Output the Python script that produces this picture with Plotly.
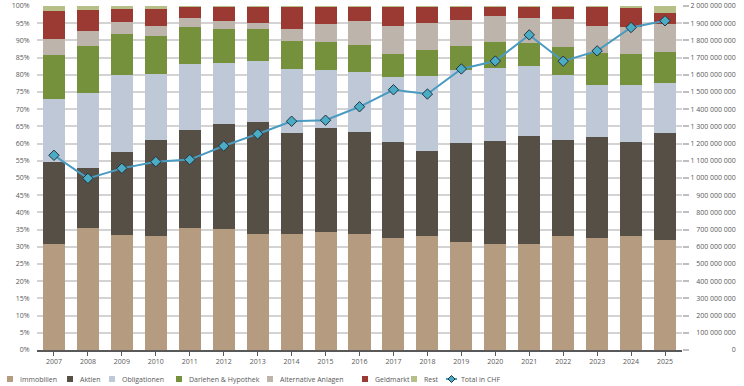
import plotly.graph_objects as go

years = [str(y) for y in range(2007, 2026)]

immobilien = [30.7, 35.5, 33.5, 33.0, 35.5, 35.1, 33.6, 33.6, 34.4, 33.8, 32.5, 33.0, 31.5, 30.7, 30.9, 33.1, 32.5, 33.1, 32.0]
aktien = [24.0, 17.3, 24.0, 28.1, 28.5, 30.7, 32.8, 29.5, 30.2, 29.6, 28.0, 24.8, 28.6, 30.0, 31.3, 27.9, 29.3, 27.3, 31.2]
obligationen = [18.3, 21.9, 22.5, 19.2, 19.0, 17.6, 17.6, 18.6, 16.8, 17.5, 18.8, 21.9, 21.3, 21.4, 20.5, 18.9, 15.3, 16.5, 14.5]
darlehen = [12.8, 13.8, 11.8, 11.1, 10.8, 10.0, 9.2, 8.1, 8.0, 7.9, 6.8, 7.5, 7.0, 7.5, 6.6, 8.1, 9.2, 9.1, 9.0]
alternative = [4.5, 4.3, 3.6, 2.9, 2.7, 2.3, 2.0, 3.5, 5.4, 6.9, 8.1, 8.0, 7.5, 7.5, 7.1, 8.2, 7.9, 7.8, 8.1]
geldmarkt = [8.2, 6.0, 3.7, 4.8, 3.4, 4.2, 4.7, 6.6, 5.1, 4.2, 5.7, 4.7, 4.0, 2.8, 3.5, 3.7, 5.7, 5.5, 3.1]
rest = [1.5, 1.2, 0.9, 0.9, 0.1, 0.1, 0.1, 0.1, 0.1, 0.1, 0.1, 0.1, 0.1, 0.1, 0.1, 0.1, 0.1, 0.7, 2.1]
total_chf = [1132e6, 998e6, 1056e6, 1095e6, 1107e6, 1186e6, 1256e6, 1330e6, 1336e6, 1414e6, 1513e6, 1488e6,
             1634e6, 1680e6, 1832e6, 1679e6, 1739e6, 1875e6, 1914e6]

pct_ticks = list(range(0, 101, 5))
chf_ticks = [i * 100_000_000 for i in range(21)]

series_names = ["Immobilien", "Aktien", "Obligationen", "Darlehen & Hypothek",
                "Alternative Anlagen", "Geldmarkt", "Rest"]
series_values = [immobilien, aktien, obligationen, darlehen, alternative, geldmarkt, rest]
series_colors = ["#B59B80", "#564F45", "#BEC8D6", "#76913C", "#BDB4AC", "#9B3A33", "#B8BE88"]
line_name = "Total in CHF"
line_color = "#4A9BC1"
marker_color = "#4BACC6"

L, R, T, B = 37, 62, 6, 36
W, H = 744, 386
pw = W - L - R
ph = H - T - B

def px_x(px):
    return (px - L) / pw

def px_y(py):
    return (H - B - py) / ph

fig = go.Figure()
for name, vals, col in zip(series_names, series_values, series_colors):
    fig.add_trace(go.Bar(x=years, y=vals, name=name, marker=dict(color=col, line=dict(width=0)),
                         showlegend=False))

fig.add_trace(go.Scatter(x=years, y=total_chf, name=line_name, yaxis="y2", mode="lines+markers",
                         line=dict(color=line_color, width=2),
                         marker=dict(symbol="diamond", size=8, color=marker_color,
                                     line=dict(color="#23343D", width=1)),
                         showlegend=False))

# right-aligned CHF labels via figure-space padding
template = "2\u00a0000\u00a0000\u00a0000"
def chf_label(v):
    s = f"{v:,}".replace(",", "\u00a0")
    pad = template[: len(template) - len(s)]
    pad = "".join("\u2007" if c.isdigit() else "\u00a0" for c in pad)
    return pad + s

# legend (compact, Excel-like) built from shapes + text
legend_sym_px = [7, 67, 109, 176, 267, 362, 411]
legend_y = 379
shapes = []
annotations = []
for name, col, sx in zip(series_names, series_colors, legend_sym_px):
    shapes.append(dict(type="rect", xref="paper", yref="paper",
                       x0=px_x(sx), x1=px_x(sx + 6), y0=px_y(legend_y + 3), y1=px_y(legend_y - 3),
                       fillcolor=col, line=dict(width=0)))
    annotations.append(dict(xref="paper", yref="paper", x=px_x(sx + 11), y=px_y(legend_y),
                            xanchor="left", yanchor="middle", text=name, showarrow=False,
                            font=dict(family="Open Sans", size=7, color="#595959")))
lx0, lx1 = 446, 457
shapes.append(dict(type="line", xref="paper", yref="paper", x0=px_x(lx0), x1=px_x(lx1),
                   y0=px_y(legend_y), y1=px_y(legend_y), line=dict(color=line_color, width=2)))
cx, cy, d = (lx0 + lx1) / 2, legend_y, 3.5
shapes.append(dict(type="path", xref="paper", yref="paper",
                   path=f"M {px_x(cx)} {px_y(cy - d)} L {px_x(cx + d)} {px_y(cy)} L {px_x(cx)} {px_y(cy + d)} L {px_x(cx - d)} {px_y(cy)} Z",
                   fillcolor=marker_color, line=dict(color="#23343D", width=1)))
annotations.append(dict(xref="paper", yref="paper", x=px_x(459), y=px_y(legend_y),
                        xanchor="left", yanchor="middle", text=line_name, showarrow=False,
                        font=dict(family="Open Sans", size=7, color="#595959")))

fig.update_layout(
    template="none",
    width=W, height=H,
    margin=dict(l=L, r=R, t=T, b=B, autoexpand=False),
    barmode="stack", bargap=0.35,
    plot_bgcolor="white", paper_bgcolor="white",
    font=dict(family="Open Sans", size=7, color="#595959"),
    showlegend=False,
    xaxis=dict(type="category", range=[-0.5, len(years) - 0.5],
               showline=True, linecolor="#595959", linewidth=1.5,
               ticks="outside", ticklen=4, tickcolor="#595959", showgrid=False, automargin=False,
               tickfont=dict(size=7, color="#595959")),
    yaxis=dict(range=[0, 100], tickvals=pct_ticks, ticktext=[f"{v}%" for v in pct_ticks],
               showgrid=True, gridcolor="#D3D3D3", gridwidth=1.5, zeroline=False, showline=False,
               ticks="outside", ticklen=5, tickcolor="rgba(0,0,0,0)", automargin=False,
               tickfont=dict(size=7, color="#595959")),
    yaxis2=dict(range=[0, 2_000_000_000], overlaying="y", side="right",
                tickvals=chf_ticks, ticktext=[chf_label(v) for v in chf_ticks],
                showgrid=False, zeroline=False, showline=False, ticks="outside", ticklen=6,
                tickcolor="#BFBFBF", automargin=False,
                tickwidth=1.5, tickfont=dict(size=7, color="#595959")),
    shapes=shapes,
    annotations=annotations,
)

fig.write_html("out.html", config={"displayModeBar": False},
               post_script="document.body.style.margin='0px';")
